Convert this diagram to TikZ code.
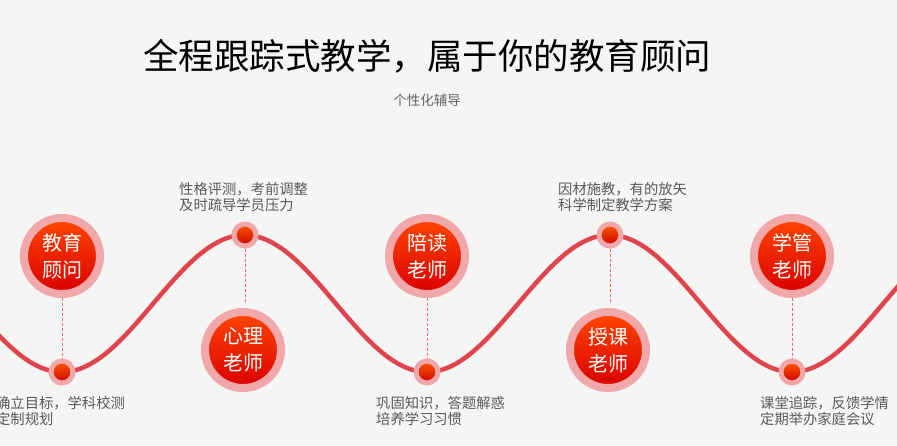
\documentclass[tikz,border=0pt]{standalone}
\usepackage{fontspec}
\newfontfamily\cjk{Noto Sans CJK SC}
\definecolor{halo}{HTML}{F0A8AA}
\definecolor{wave}{HTML}{E0454D}
\begin{document}
\begin{tikzpicture}[x=1pt,y=-1pt,
  big/.style={circle,minimum size=76pt,inner sep=0pt,top color=orange!55!red,bottom color=red!85!black,draw=halo,line width=8pt,text=white,font=\cjk\fontsize{20}{27}\selectfont,align=center},
  dot/.style={circle,minimum size=22pt,inner sep=0pt,top color=orange!70!red,bottom color=red!80!black,draw=halo,line width=5pt},
  lbl/.style={anchor=north west,inner sep=0pt,text=black!65,font=\cjk\fontsize{14.3}{16.5}\selectfont,align=left},
  dsh/.style={draw=red!60,densely dashed,line width=0.6pt}]
\fill[black!4] (0,0) rectangle (897,445);
\clip (0,0) rectangle (897,445);
\draw[line width=4.5pt,color=wave] plot[domain=-10:910,samples=200,smooth] (\x,{303.5+68.5*cos((\x-62)/365*360)});
\node[font=\cjk\fontsize{35.5}{40}\selectfont] (title) at (427,56) {全程跟踪式教学，属于你的教育顾问};
\node[font=\cjk\fontsize{13.5}{15}\selectfont,text=black!60] (sub) at (427,100) {个性化辅导};
\node[dot] (d1) at (62,372) {};
\node[dot] (d2) at (245,235) {};
\node[dot] (d3) at (427,372) {};
\node[dot] (d4) at (610,235) {};
\node[dot] (d5) at (792,372) {};
\node[big] (c1) at (62,256) {教育\\顾问};
\node[big] (c2) at (243,350) {心理\\老师};
\node[big] (c3) at (427,256) {陪读\\老师};
\node[big] (c4) at (608,350) {授课\\老师};
\node[big] (c5) at (792,256) {学管\\老师};
\draw[dsh] (c1) -- (d1); \draw[dsh] (d2) -- (245,303);
\draw[dsh] (c3) -- (d3); \draw[dsh] (d4) -- (610,303);
\draw[dsh] (c5) -- (d5);
\node[lbl] (l1) at (-4,396) {确立目标，学科校测\\定制规划};
\node[lbl] (l2) at (179,182) {性格评测，考前调整\\及时疏导学员压力};
\node[lbl] (l3) at (376,396) {巩固知识，答题解惑\\培养学习习惯};
\node[lbl] (l4) at (558,182) {因材施教，有的放矢\\科学制定教学方案};
\node[lbl] (l5) at (760,396) {课堂追踪，反馈学情\\定期举办家庭会议};
\end{tikzpicture}
\end{document}
